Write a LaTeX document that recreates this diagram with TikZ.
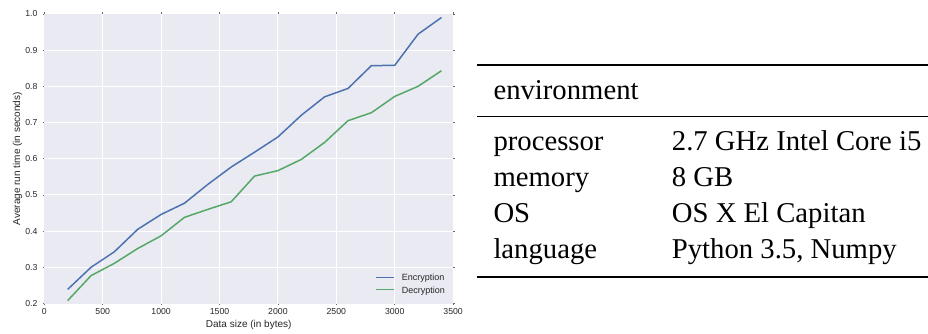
\documentclass[tikz,border=0pt]{standalone}
\usepackage{fontspec}
\setmainfont{Liberation Serif}
\newfontfamily\plotfont{Liberation Sans}
\definecolor{sbbg}{HTML}{EAEAF2}
\definecolor{sbblue}{HTML}{4C72B0}
\definecolor{sbgreen}{HTML}{55A868}
\definecolor{sbtext}{HTML}{262626}
\tikzset{
  gridline/.style={white, line width=1pt},
  tickmark/.style={sbtext!70, line width=0.5pt},
  ticklabel/.style={font=\plotfont\fontsize{8.7}{10}\selectfont, text=sbtext, inner sep=0pt},
  axislabel/.style={font=\plotfont\fontsize{10}{12}\selectfont, text=sbtext, inner sep=0pt},
  legendtext/.style={font=\plotfont\fontsize{9}{11}\selectfont, text=sbtext, inner sep=0pt, anchor=base west},
  series/.style={line width=1.5pt, line join=round},
  tabtext/.style={font=\fontsize{28.7}{36}\selectfont, inner sep=0pt, anchor=base west},
  thickrule/.style={line width=2.2pt},
  thinrule/.style={line width=1.4pt},
}
\begin{document}
\begin{tikzpicture}[x=1pt, y=-1pt]
\useasboundingbox (0,0) rectangle (928,334);

% ---------- line chart (data coordinates: bytes, seconds) ----------
\begin{scope}[shift={(44.3,375.9)}, x=0.1168pt, y=362pt]
  \fill[sbbg] (0,0.2) rectangle (3500,1.0);
  \foreach \d in {500,1000,...,3000}
    \draw[gridline] (\d,0.2) -- (\d,1.0);
  \foreach \v in {0.3,0.4,...,0.95}
    \draw[gridline] (0,\v) -- (3500,\v);

  % small tick marks on all four sides
  \foreach \d in {0,500,...,3500} {
    \draw[tickmark] (\d,0.2) -- ++(0,-1.5pt);
    \draw[tickmark] (\d,1.0) -- ++(0,1.5pt);
  }
  \foreach \v in {0.2,0.3,...,1.05} {
    \draw[tickmark] (0,\v) -- ++(-1.5pt,0);
    \draw[tickmark] (3500,\v) -- ++(1.5pt,0);
  }

  % tick labels
  \foreach \d/\n in {0/x0,500/x1,1000/x2,1500/x3,2000/x4,2500/x5,3000/x6,3500/x7}
    \node[ticklabel, anchor=north, yshift=-5pt] (\n) at (\d,0.2) {\d};
  \foreach \v/\n in {0.2/y2,0.3/y3,0.4/y4,0.5/y5,0.6/y6,0.7/y7,0.8/y8,0.9/y9,1.0/y10}
    \node[ticklabel, anchor=east, xshift=-6.6pt] (\n) at (0,\v) {\v};

  % series
  \draw[series, sbblue] plot coordinates {
    (200,0.239) (400,0.300) (600,0.343) (800,0.405) (1000,0.446)
    (1200,0.477) (1400,0.529) (1600,0.577) (1800,0.618) (2000,0.660)
    (2200,0.720) (2400,0.771) (2600,0.794) (2800,0.857) (3000,0.858)
    (3200,0.944) (3400,0.990)};
  \draw[series, sbgreen] plot coordinates {
    (200,0.208) (400,0.277) (600,0.311) (800,0.352) (1000,0.387)
    (1200,0.438) (1400,0.460) (1600,0.481) (1800,0.552) (2000,0.567)
    (2200,0.598) (2400,0.645) (2600,0.705) (2800,0.727) (3000,0.772)
    (3200,0.800) (3400,0.843)};
\end{scope}

% axis labels
\node[axislabel, anchor=base] (xlab) at (248.7,327) {Data size (in bytes)};
\node[axislabel, anchor=base, rotate=90] (ylab) at (20,158.7) {Average run time (in seconds)};

% legend
\coordinate (encA) at (375.5,277.3);
\coordinate (encB) at (394.3,277.3);
\coordinate (decA) at (375.5,289.6);
\coordinate (decB) at (394.3,289.6);
\draw[series, sbblue] (encA) -- (encB);
\draw[series, sbgreen] (decA) -- (decB);
\node[legendtext] (encT) at (401.7,280.8) {Encryption};
\node[legendtext] (decT) at (401.7,293.1) {Decryption};

% ---------- environment table ----------
\coordinate (topL) at (477.3,64.8);
\coordinate (topR) at (928,64.8);
\coordinate (midL) at (477.3,116.5);
\coordinate (midR) at (928,116.5);
\coordinate (botL) at (477.3,276.7);
\coordinate (botR) at (928,276.7);
\draw[thickrule] (topL) -- (topR);
\draw[thinrule] (midL) -- (midR);
\draw[thickrule] (botL) -- (botR);

\node[tabtext] (head) at (493.3,100) {environment};
\node[tabtext] (k1) at (493.3,150.7) {processor};
\node[tabtext] (v1) at (671.7,150.7) {2.7 GHz Intel Core i5};
\node[tabtext] (k2) at (493.3,186.7) {memory};
\node[tabtext] (v2) at (671.7,186.7) {8 GB};
\node[tabtext] (k3) at (493.3,222.7) {OS};
\node[tabtext] (v3) at (671.7,222.7) {OS X El Capitan};
\node[tabtext] (k4) at (493.3,258.7) {language};
\node[tabtext] (v4) at (671.7,258.7) {Python 3.5, Numpy};
\end{tikzpicture}
\end{document}
